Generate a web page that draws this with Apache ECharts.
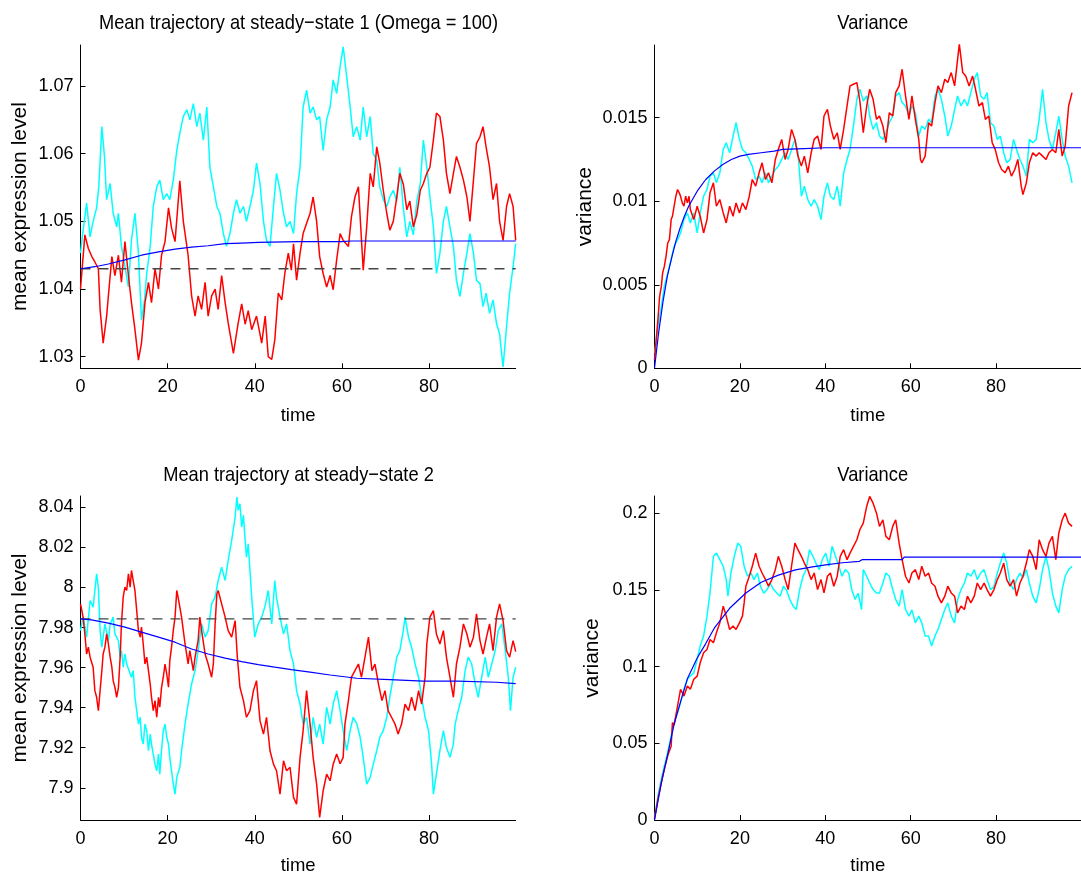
<!DOCTYPE html>
<html>
<head>
<meta charset="utf-8">
<script src="https://cdn.jsdelivr.net/npm/echarts/dist/echarts.min.js"></script>
<style>
html,body{margin:0;padding:0;background:#fff;}
#chart{width:1081px;height:877px;}
</style>
</head>
<body>
<div id="chart"></div>
<script>
// ---------- tick labels ----------
const timeTicks = [0, 20, 40, 60, 80];
const ticksTL = [1.03, 1.04, 1.05, 1.06, 1.07];
const ticksTR = [0, 0.005, 0.01, 0.015];
const ticksBL = [7.9, 7.92, 7.94, 7.96, 7.98, 8, 8.02, 8.04];
const ticksBR = [0, 0.05, 0.1, 0.15, 0.2];

// ---------- titles / names ----------
const titles = ['Mean trajectory at steady\u2212state 1 (Omega = 100)', 'Variance', 'Mean trajectory at steady\u2212state 2', 'Variance'];
const yNames = ['mean expression level', 'variance', 'mean expression level', 'variance'];

// ---------- top-left: mean, steady state 1 ----------
const tlRed = [[0,1.040],[1.0,1.048],[1.8,1.046],[2.6,1.0448],[3.3,1.044],[4.1,1.043],[4.5,1.037],[5.2,1.032],[6.0,1.036],[6.4,1.039],[7.2,1.0448],[7.9,1.042],[8.7,1.045],[9.4,1.041],[10.2,1.047],[11.0,1.042],[11.7,1.038],[12.5,1.034],[13.3,1.0295],[14.0,1.032],[14.8,1.038],[15.6,1.041],[16.3,1.038],[17.1,1.043],[17.9,1.040],[18.6,1.045],[19.4,1.047],[20.2,1.052],[20.9,1.049],[21.7,1.047],[22.8,1.056],[23.6,1.050],[24.7,1.045],[25.5,1.039],[26.3,1.036],[27.0,1.039],[27.8,1.037],[28.6,1.041],[29.3,1.036],[30.1,1.039],[30.9,1.040],[31.6,1.037],[32.4,1.042],[33.2,1.038],[33.9,1.035],[35.1,1.0305],[36.2,1.035],[37.0,1.0378],[37.8,1.0348],[38.5,1.0368],[39.3,1.034],[40.4,1.036],[41.6,1.032],[42.4,1.036],[43.1,1.030],[43.9,1.0296],[44.6,1.0325],[45.4,1.0394],[46.2,1.0384],[46.9,1.0423],[47.7,1.0453],[48.4,1.0428],[48.9,1.0467],[49.6,1.0413],[50.4,1.0453],[51.1,1.0482],[52.7,1.0512],[53.4,1.0536],[54.2,1.050],[54.9,1.0448],[55.7,1.0423],[56.5,1.0403],[57.3,1.042],[58.0,1.0399],[58.8,1.0443],[59.6,1.0482],[60.3,1.0472],[61.5,1.0463],[62.2,1.0507],[63.0,1.0536],[63.8,1.0551],[64.5,1.0472],[64.9,1.0428],[65.7,1.0492],[66.5,1.0571],[67.2,1.0551],[68.0,1.061],[68.7,1.0586],[69.5,1.0546],[70.3,1.0512],[71.0,1.0487],[71.8,1.050],[72.6,1.0536],[73.3,1.0571],[74.1,1.0555],[74.9,1.0517],[75.6,1.053],[76.4,1.0492],[77.2,1.051],[78.0,1.0546],[78.7,1.0556],[79.5,1.0571],[80.2,1.058],[81.0,1.062],[81.7,1.066],[82.5,1.0655],[83.3,1.062],[84.0,1.0571],[84.8,1.0541],[85.6,1.0571],[86.3,1.0596],[87.1,1.058],[87.9,1.0561],[88.7,1.0536],[89.4,1.050],[90.2,1.0561],[90.9,1.0615],[91.7,1.0625],[92.4,1.064],[93.1,1.061],[93.9,1.058],[94.7,1.0532],[95.5,1.0556],[96.2,1.050],[97.0,1.0472],[97.8,1.0522],[98.5,1.0541],[99.3,1.0522],[99.9,1.0472]];
const tlCyan = [[0,1.0453],[0.7,1.0492],[1.4,1.0527],[2.2,1.0477],[2.9,1.050],[3.7,1.052],[4.2,1.0551],[4.9,1.064],[5.5,1.0596],[6.0,1.0532],[6.8,1.0556],[7.5,1.0512],[8.3,1.0492],[8.7,1.0512],[9.4,1.0463],[10.2,1.0433],[11.0,1.0403],[11.7,1.0472],[12.5,1.0512],[13.3,1.0453],[14.0,1.0354],[14.7,1.0384],[15.2,1.0423],[16.0,1.0463],[16.7,1.0522],[17.5,1.0551],[18.2,1.0561],[19.0,1.0532],[19.8,1.0541],[20.5,1.0532],[21.3,1.0561],[22.1,1.0605],[22.8,1.063],[23.6,1.0655],[24.4,1.0665],[25.1,1.065],[25.9,1.0674],[26.7,1.064],[27.4,1.066],[28.2,1.062],[29.0,1.0669],[29.7,1.058],[30.5,1.0551],[31.3,1.0522],[32.0,1.0512],[32.8,1.0482],[33.5,1.0463],[34.3,1.0482],[35.1,1.0512],[35.8,1.0532],[36.6,1.0512],[37.4,1.0522],[38.1,1.050],[38.9,1.0522],[39.7,1.0546],[40.4,1.0586],[41.2,1.0556],[42.0,1.050],[42.7,1.0472],[43.5,1.0463],[44.3,1.0522],[45.0,1.0571],[45.8,1.0546],[46.6,1.0512],[47.3,1.0492],[48.1,1.050],[48.9,1.0482],[49.6,1.0541],[50.4,1.058],[51.1,1.0669],[51.9,1.0694],[52.7,1.066],[53.4,1.0669],[54.2,1.065],[54.9,1.0655],[55.7,1.0605],[56.5,1.065],[57.3,1.0669],[58.0,1.0709],[58.8,1.0689],[59.6,1.0729],[60.3,1.0758],[61.1,1.0714],[61.9,1.0669],[62.6,1.0625],[63.4,1.064],[64.2,1.062],[64.9,1.0669],[65.7,1.0625],[66.5,1.0655],[67.2,1.060],[68.0,1.059],[68.7,1.0551],[69.5,1.0532],[70.3,1.0522],[71.0,1.0536],[71.8,1.0546],[72.6,1.053],[73.3,1.058],[74.1,1.052],[74.9,1.0477],[75.6,1.050],[76.4,1.048],[77.2,1.053],[78.0,1.0556],[78.7,1.062],[79.5,1.058],[80.2,1.0536],[81.0,1.0492],[81.7,1.0423],[82.5,1.0453],[83.3,1.050],[84.0,1.0522],[84.8,1.0492],[85.6,1.0463],[86.3,1.0413],[87.1,1.0389],[87.9,1.0423],[88.7,1.0453],[89.4,1.0482],[90.2,1.0453],[90.9,1.0413],[91.7,1.0408],[92.4,1.0374],[93.1,1.0394],[93.9,1.0364],[94.7,1.0384],[95.5,1.0349],[96.2,1.0334],[97.0,1.0285],[97.8,1.0344],[98.5,1.0394],[99.3,1.0433],[99.9,1.0467]];
const tlBlue = [[0,1.043],[3.3,1.0433],[6.4,1.0437],[10.2,1.0443],[14,1.045],[17.9,1.0455],[21.7,1.0459],[25.5,1.0462],[29.3,1.0464],[33.2,1.0467],[37,1.0468],[40.8,1.0469],[50,1.047],[60,1.047],[62,1.0471],[99.9,1.0471]];
const tlDash = [[0,1.043],[99.9,1.043]];

// ---------- top-right: variance 1 ----------
const trRed = [[0,0.0005],[0.4,0.0017],[0.8,0.0029],[1.2,0.0043],[1.6,0.0049],[1.9,0.0057],[2.3,0.0061],[2.7,0.0067],[3.1,0.0075],[3.5,0.0077],[3.9,0.0089],[4.2,0.0091],[4.6,0.0097],[5.0,0.0103],[5.4,0.0107],[5.8,0.0105],[6.1,0.0103],[6.5,0.0099],[6.9,0.0097],[7.3,0.0103],[7.7,0.0099],[8.1,0.0103],[8.4,0.0095],[9.2,0.0089],[10.0,0.0097],[10.7,0.0091],[11.5,0.0081],[12.3,0.0089],[13.0,0.0105],[13.8,0.0111],[14.5,0.0097],[15.3,0.0101],[16.1,0.0093],[16.8,0.0087],[17.6,0.0097],[18.4,0.0091],[19.1,0.0099],[19.9,0.0093],[20.6,0.0099],[21.4,0.0095],[22.2,0.0103],[22.9,0.0113],[23.7,0.0109],[24.5,0.0117],[25.2,0.0123],[26.0,0.0113],[26.7,0.0117],[27.5,0.0111],[28.3,0.0125],[29.0,0.0131],[29.8,0.0137],[30.6,0.0125],[31.3,0.0131],[32.1,0.0143],[32.9,0.0137],[33.6,0.0127],[34.4,0.0121],[35.1,0.0127],[35.9,0.0117],[36.7,0.0129],[37.4,0.0137],[38.2,0.0139],[39.0,0.0131],[39.7,0.0151],[40.5,0.0155],[41.2,0.0145],[42.0,0.0137],[42.8,0.0141],[43.5,0.0131],[44.3,0.0143],[45.1,0.0157],[45.8,0.0169],[46.6,0.0170],[47.4,0.0171],[48.1,0.0160],[48.9,0.0141],[49.7,0.0157],[50.4,0.0167],[51.2,0.0161],[52.0,0.0149],[52.7,0.0151],[53.5,0.0145],[54.2,0.0135],[55.0,0.0153],[55.8,0.0151],[56.5,0.0165],[57.3,0.0169],[58.0,0.0179],[58.8,0.0163],[59.6,0.0149],[60.3,0.0163],[61.1,0.0149],[61.9,0.0137],[62.3,0.0125],[62.6,0.0123],[63.4,0.0127],[64.2,0.0147],[64.9,0.0145],[65.7,0.0159],[66.4,0.0169],[67.2,0.0165],[68.0,0.0173],[68.7,0.0171],[69.5,0.0177],[70.3,0.0169],[71.0,0.0185],[71.4,0.0194],[72.2,0.0177],[72.9,0.0175],[73.7,0.0169],[74.5,0.0175],[75.2,0.0167],[76.0,0.0157],[76.8,0.0159],[77.5,0.0149],[78.3,0.0151],[79.1,0.0135],[79.8,0.0131],[80.6,0.0123],[81.3,0.0119],[82.1,0.0117],[82.9,0.0121],[83.6,0.0115],[84.4,0.0119],[85.1,0.0125],[85.9,0.0109],[86.3,0.0104],[87.1,0.0111],[87.8,0.0123],[88.6,0.0129],[89.4,0.0127],[90.1,0.0129],[90.9,0.0127],[91.7,0.0125],[92.4,0.0129],[93.2,0.0131],[94.0,0.0129],[94.7,0.0143],[95.5,0.0127],[96.2,0.0133],[97.0,0.0157],[97.8,0.0165]];
const trCyan = [[0,0.0009],[0.8,0.0025],[1.6,0.0037],[2.3,0.0049],[3.1,0.0057],[3.9,0.0065],[4.6,0.0073],[5.4,0.0077],[6.1,0.0081],[6.9,0.0089],[7.7,0.0093],[8.4,0.0087],[9.2,0.0093],[10.0,0.0081],[10.7,0.0093],[11.5,0.0103],[12.3,0.0107],[13.0,0.0115],[13.8,0.0117],[14.5,0.0111],[15.3,0.0117],[16.1,0.0131],[16.8,0.0135],[17.6,0.0129],[18.4,0.0139],[19.1,0.0147],[19.9,0.0137],[20.6,0.0131],[21.4,0.0129],[22.2,0.0125],[22.9,0.0121],[23.7,0.0113],[24.5,0.0115],[25.2,0.0111],[26.0,0.0117],[26.7,0.0111],[27.5,0.0115],[28.3,0.0119],[29.0,0.0121],[29.8,0.0125],[30.6,0.0129],[31.3,0.0125],[32.1,0.0131],[32.9,0.0137],[33.6,0.0129],[34.4,0.0103],[35.1,0.0109],[35.9,0.0101],[36.7,0.0097],[37.4,0.0101],[38.2,0.0097],[39.0,0.0089],[39.7,0.0103],[40.5,0.0111],[41.2,0.0103],[42.0,0.0101],[42.8,0.0109],[43.5,0.0097],[44.3,0.0117],[45.1,0.0125],[45.8,0.0131],[46.6,0.0145],[47.4,0.0161],[48.1,0.0167],[48.9,0.0160],[49.7,0.0163],[50.4,0.0151],[51.2,0.0143],[52.0,0.0147],[52.7,0.0139],[53.5,0.0137],[54.2,0.0141],[55.0,0.0147],[55.8,0.0151],[56.5,0.0163],[57.3,0.0165],[58.0,0.0159],[58.8,0.0157],[59.6,0.0151],[60.3,0.0157],[61.1,0.0153],[61.9,0.0139],[62.6,0.0145],[63.4,0.0143],[64.2,0.0149],[64.9,0.0147],[65.7,0.0163],[66.4,0.0167],[67.2,0.0161],[68.0,0.0151],[68.7,0.0139],[69.5,0.0145],[70.3,0.0155],[71.0,0.0163],[71.8,0.0157],[72.6,0.0161],[73.3,0.0157],[74.1,0.0165],[74.9,0.0173],[75.6,0.0177],[76.4,0.0163],[77.2,0.0161],[77.9,0.0165],[78.7,0.0147],[79.5,0.0145],[80.3,0.0137],[81.0,0.0139],[81.8,0.0129],[82.5,0.0123],[83.3,0.0125],[84.1,0.0137],[84.8,0.0131],[85.6,0.0125],[86.3,0.0121],[87.1,0.0115],[87.8,0.0137],[88.6,0.0135],[89.4,0.0137],[90.1,0.0149],[90.9,0.0167],[91.7,0.0147],[92.4,0.0137],[93.2,0.0131],[94.0,0.0141],[94.7,0.0151],[95.5,0.0137],[96.2,0.0127],[97.0,0.0121],[97.8,0.0111]];
const trBlue = [[0,0],[1,0.0022],[2,0.004],[3,0.0055],[4,0.0066],[5,0.0076],[6,0.0084],[7,0.0091],[8,0.0097],[10,0.0106],[12,0.0113],[14,0.0118],[16,0.0122],[18,0.0125],[20,0.0127],[22,0.0128],[25,0.0129],[28,0.0130],[30,0.0131],[35,0.01315],[40,0.0132],[99.9,0.0132]];

// ---------- bottom-left: mean, steady state 2 ----------
const blRed = [[0,7.9918],[0.6,7.9852],[1.0,7.9768],[1.4,7.9668],[1.8,7.9702],[2.2,7.9652],[2.9,7.9602],[3.3,7.9485],[3.7,7.9452],[4.1,7.9385],[4.5,7.9485],[4.9,7.9585],[5.2,7.9668],[5.6,7.9702],[6.0,7.9768],[6.4,7.9718],[6.8,7.9652],[7.2,7.9602],[7.5,7.9535],[7.9,7.9502],[8.3,7.9452],[8.7,7.950],[9.1,7.9652],[9.4,7.9818],[9.8,7.9952],[10.2,8.0002],[10.6,7.9985],[11.0,8.0068],[11.4,8.0002],[11.7,8.0085],[12.1,8.0035],[12.5,7.9985],[12.9,7.9885],[13.3,7.9785],[13.7,7.9752],[14.0,7.9802],[14.4,7.9718],[14.8,7.9618],[15.2,7.9652],[15.6,7.9585],[16.0,7.9518],[16.3,7.9452],[16.7,7.9385],[17.1,7.9435],[17.5,7.9352],[17.9,7.9452],[18.2,7.9402],[18.6,7.950],[19.0,7.9552],[19.4,7.9618],[19.8,7.9568],[20.2,7.9502],[20.5,7.9635],[20.9,7.9702],[21.3,7.9785],[21.7,7.9852],[22.1,7.9985],[22.4,7.9952],[22.8,7.9902],[23.2,7.9852],[23.6,7.9785],[24.0,7.9718],[24.7,7.9618],[25.1,7.9685],[25.5,7.9635],[25.9,7.9585],[26.3,7.9652],[27.0,7.9735],[27.4,7.9852],[27.8,7.9785],[28.6,7.9668],[29.3,7.9618],[30.1,7.9552],[30.5,7.962],[30.9,7.9818],[31.3,7.9968],[31.6,7.9985],[32.4,7.9918],[33.2,7.9852],[33.9,7.9785],[34.7,7.9752],[35.5,7.9835],[36.0,7.9652],[36.6,7.9502],[37.4,7.9435],[38.1,7.9352],[38.9,7.9385],[39.7,7.9485],[40.4,7.9535],[41.2,7.9335],[42.0,7.9268],[42.7,7.9352],[43.5,7.9185],[44.3,7.9118],[45.0,7.9085],[45.8,7.8968],[46.6,7.9135],[47.3,7.9085],[48.1,7.9102],[48.9,7.8952],[49.6,7.8918],[50.4,7.9152],[51.1,7.9285],[51.9,7.9485],[52.7,7.9318],[53.4,7.9152],[54.2,7.9018],[54.9,7.8852],[55.7,7.8985],[56.5,7.9068],[57.3,7.9035],[58.0,7.9118],[58.8,7.9168],[59.6,7.912],[60.3,7.9152],[60.7,7.9318],[61.5,7.9435],[62.2,7.9552],[63.0,7.9585],[63.8,7.9618],[64.5,7.9552],[65.3,7.9652],[66.1,7.9752],[66.9,7.9585],[67.6,7.9618],[68.4,7.9518],[69.2,7.9435],[69.9,7.9485],[70.6,7.9385],[71.4,7.9352],[72.2,7.9318],[72.9,7.9268],[73.7,7.9318],[74.5,7.9418],[75.3,7.9385],[76.0,7.9452],[76.8,7.9385],[77.6,7.9485],[78.3,7.9418],[79.1,7.9552],[79.5,7.9718],[80.2,7.9852],[81.0,7.9885],[81.7,7.9768],[82.5,7.9718],[83.3,7.9785],[84.0,7.9652],[84.8,7.9552],[85.6,7.9452],[86.3,7.9618],[87.1,7.9702],[87.9,7.9818],[88.7,7.9768],[89.4,7.9702],[90.2,7.9752],[90.9,7.9868],[91.7,7.9735],[92.4,7.9668],[93.2,7.9752],[93.9,7.9818],[94.7,7.9685],[95.5,7.9852],[96.2,7.9918],[97.0,7.9835],[97.8,7.9685],[98.5,7.9652],[99.3,7.9735],[99.9,7.968]];
const blCyan = [[0,7.9785],[0.6,7.9852],[1.4,7.9752],[2.2,7.9935],[2.9,7.9902],[3.3,7.9985],[3.7,8.0068],[4.1,8.0],[4.5,7.9785],[4.9,7.9702],[5.2,7.9752],[5.6,7.9818],[6.4,7.9735],[6.8,7.9818],[7.5,7.9852],[7.9,7.9768],[8.7,7.9735],[9.1,7.9652],[9.4,7.9685],[9.8,7.9602],[10.2,7.9668],[10.6,7.9618],[11.7,7.9552],[12.1,7.9585],[12.5,7.9452],[13.3,7.9318],[13.7,7.9352],[14.0,7.9252],[14.4,7.9218],[14.8,7.9318],[15.2,7.9285],[15.6,7.9185],[16.0,7.9268],[16.3,7.9218],[17.1,7.9118],[17.5,7.9085],[17.9,7.9168],[18.2,7.9068],[18.6,7.9185],[19.0,7.9285],[19.4,7.9318],[19.8,7.9252],[20.2,7.9218],[20.5,7.9152],[20.9,7.9085],[21.3,7.9018],[21.7,7.8968],[22.1,7.9052],[22.8,7.9102],[23.2,7.9185],[23.6,7.9252],[24.0,7.9318],[24.7,7.9418],[25.5,7.9518],[26.3,7.9585],[27.0,7.9685],[27.4,7.9752],[27.8,7.9818],[28.6,7.9752],[29.3,7.9785],[30.1,7.9918],[30.9,7.9952],[31.6,8.0035],[32.4,8.0102],[33.2,8.0035],[33.9,8.0135],[34.7,8.0235],[35.5,8.0352],[35.9,8.0452],[36.2,8.0385],[36.6,8.0418],[37.0,8.0302],[37.4,8.036],[37.8,8.0235],[38.1,8.0152],[38.5,8.0218],[38.9,8.0085],[39.3,7.9952],[40.0,7.9752],[40.8,7.9818],[41.6,7.9852],[42.3,7.9902],[43.1,7.9985],[43.9,7.9818],[44.6,8.0035],[45.0,7.995],[45.8,7.9852],[46.6,7.9768],[47.3,7.9818],[48.1,7.9685],[48.9,7.9618],[49.6,7.9485],[50.4,7.9418],[51.1,7.9318],[51.9,7.9352],[52.7,7.9218],[53.4,7.9352],[54.2,7.9252],[54.9,7.9318],[55.7,7.9218],[56.5,7.9402],[57.3,7.9318],[58.0,7.9418],[58.8,7.9485],[59.6,7.9385],[60.3,7.9285],[61.1,7.9185],[61.9,7.9285],[62.6,7.9352],[63.4,7.932],[64.2,7.9252],[64.9,7.9152],[65.7,7.9018],[66.5,7.9052],[67.2,7.9118],[68.0,7.9185],[68.7,7.9252],[69.5,7.9285],[70.3,7.9352],[71.0,7.9452],[71.8,7.9552],[72.6,7.9652],[73.3,7.9685],[74.1,7.9785],[74.5,7.9852],[75.3,7.9752],[76.0,7.9702],[76.8,7.9618],[77.6,7.9552],[78.3,7.9452],[79.1,7.9352],[79.9,7.9285],[80.6,7.9118],[81.0,7.8968],[81.7,7.9068],[82.5,7.9185],[83.3,7.9285],[84.0,7.9202],[84.8,7.9152],[85.6,7.9218],[86.0,7.9318],[86.7,7.9385],[87.5,7.9452],[88.3,7.9585],[89.0,7.9652],[89.8,7.9618],[90.6,7.9518],[91.3,7.9452],[92.1,7.9552],[92.9,7.9652],[93.6,7.9552],[94.4,7.9618],[95.2,7.9685],[95.9,7.9785],[96.7,7.9818],[97.5,7.9685],[98.2,7.9552],[98.7,7.9385],[99.3,7.9552],[99.9,7.9602]];
const blBlue = [[0,7.9843],[2.5,7.9838],[6.4,7.9822],[10.2,7.9802],[14,7.9777],[17.9,7.9752],[21.7,7.9727],[25.5,7.9693],[29.3,7.9668],[33.2,7.9647],[37,7.963],[40.8,7.9615],[44.6,7.9602],[48.4,7.959],[52.7,7.9577],[57.3,7.9563],[63.4,7.9547],[71,7.954],[78.7,7.9533],[86.4,7.9533],[95.5,7.9527],[99.9,7.952]];
const blDash = [[0,7.9843],[99.9,7.9843]];

// ---------- bottom-right: variance 2 ----------
const brRed = [[0,0.0007],[0.8,0.0137],[1.6,0.0245],[2.3,0.0332],[3.1,0.0418],[3.9,0.0483],[4.2,0.0635],[4.6,0.062],[5.4,0.0743],[6.1,0.0852],[6.9,0.0808],[7.7,0.0873],[8.4,0.0852],[9.2,0.0917],[10.0,0.0938],[10.7,0.1025],[11.5,0.109],[12.3,0.1112],[13.0,0.1177],[13.8,0.1155],[14.5,0.122],[15.3,0.1285],[16.1,0.1394],[16.8,0.1329],[17.6,0.1242],[18.4,0.1264],[19.1,0.1242],[19.9,0.1285],[20.6,0.1329],[21.0,0.1415],[21.4,0.1524],[22.2,0.1589],[22.9,0.1654],[23.7,0.174],[24.5,0.1654],[25.2,0.161],[26.0,0.1567],[26.7,0.1524],[27.5,0.1567],[28.3,0.1632],[29.0,0.1719],[29.8,0.1654],[30.6,0.1567],[31.3,0.1502],[32.1,0.1654],[32.9,0.1805],[33.6,0.1762],[34.4,0.1719],[35.1,0.1675],[35.9,0.1632],[36.7,0.1567],[37.4,0.161],[38.2,0.1502],[39.0,0.1567],[39.7,0.148],[40.5,0.1589],[41.2,0.161],[42.0,0.1524],[42.8,0.1589],[43.5,0.1719],[44.3,0.1762],[45.1,0.1697],[45.8,0.174],[46.6,0.1784],[47.4,0.1827],[48.1,0.1892],[48.9,0.1935],[49.7,0.2044],[50.4,0.2109],[51.2,0.2065],[52.0,0.2],[52.7,0.1914],[53.5,0.1957],[54.2,0.1849],[55.0,0.1827],[55.8,0.1914],[56.5,0.1957],[57.3,0.1805],[58.0,0.1697],[58.8,0.1589],[59.6,0.1545],[60.3,0.161],[61.1,0.1632],[61.9,0.1567],[62.6,0.1654],[63.4,0.1589],[64.2,0.161],[64.9,0.1545],[65.7,0.1524],[66.4,0.1459],[67.2,0.1415],[68.0,0.1459],[68.7,0.1524],[69.5,0.148],[70.3,0.1459],[71.0,0.135],[71.8,0.1394],[72.6,0.1372],[73.3,0.1459],[74.1,0.1415],[74.9,0.1459],[75.6,0.1545],[76.4,0.1502],[77.2,0.1545],[77.9,0.1502],[78.7,0.1459],[79.5,0.1502],[80.3,0.1567],[81.0,0.161],[81.8,0.1675],[82.5,0.1567],[83.3,0.1524],[84.1,0.1567],[84.8,0.1459],[85.6,0.1545],[86.3,0.1589],[87.1,0.1675],[87.8,0.1762],[88.6,0.1719],[89.4,0.1632],[90.1,0.1827],[90.9,0.1762],[91.7,0.1719],[92.4,0.1805],[93.2,0.1849],[94.0,0.1697],[94.7,0.187],[95.5,0.1957],[96.2,0.2],[97.0,0.1935],[97.8,0.1914]];
const brCyan = [[0,0.0007],[0.8,0.0158],[1.6,0.0267],[2.3,0.0353],[3.1,0.044],[3.9,0.0548],[4.6,0.0635],[5.4,0.07],[6.1,0.0765],[6.9,0.0852],[7.7,0.0917],[8.4,0.0938],[9.2,0.096],[10.0,0.1047],[10.7,0.1134],[11.5,0.1199],[12.3,0.1329],[12.7,0.1415],[13.0,0.148],[13.8,0.1719],[14.5,0.174],[15.3,0.1697],[16.1,0.1654],[16.8,0.1567],[17.2,0.1459],[17.9,0.161],[18.7,0.1719],[19.5,0.1805],[20.2,0.1784],[21.0,0.1654],[21.8,0.1589],[22.6,0.161],[23.3,0.1567],[24.1,0.161],[24.8,0.1524],[25.6,0.1478],[26.4,0.1502],[27.1,0.1545],[27.9,0.1502],[28.7,0.1478],[29.4,0.1459],[30.2,0.1524],[30.9,0.150],[31.7,0.1437],[32.5,0.1394],[33.2,0.1372],[34.0,0.1502],[34.8,0.1589],[35.5,0.1632],[36.3,0.1762],[37.1,0.1719],[37.8,0.1675],[38.6,0.1632],[39.3,0.1697],[40.1,0.174],[40.9,0.1654],[41.6,0.1784],[42.4,0.1719],[43.2,0.1654],[43.9,0.1589],[44.7,0.1632],[45.5,0.161],[46.2,0.1502],[47.0,0.1437],[47.7,0.1478],[48.5,0.1372],[48.9,0.1632],[49.7,0.1589],[50.4,0.1545],[51.2,0.1502],[52.0,0.148],[52.7,0.148],[53.5,0.1545],[54.2,0.161],[55.0,0.1589],[55.8,0.1502],[56.5,0.1437],[57.3,0.1394],[58.0,0.1502],[58.8,0.1372],[59.6,0.1329],[60.3,0.137],[61.1,0.1285],[61.9,0.1329],[62.6,0.1285],[63.4,0.1199],[64.2,0.120],[64.9,0.1134],[65.7,0.1199],[66.4,0.1242],[67.2,0.1307],[68.0,0.1372],[68.7,0.1415],[69.5,0.1329],[70.3,0.1285],[71.0,0.1437],[71.8,0.1502],[72.6,0.1545],[73.3,0.161],[74.1,0.1589],[74.9,0.1632],[75.6,0.1567],[76.4,0.161],[77.2,0.1632],[77.9,0.1567],[78.7,0.1502],[79.5,0.152],[80.3,0.161],[81.0,0.1675],[81.8,0.174],[82.5,0.1675],[83.3,0.1545],[84.1,0.1502],[84.8,0.1567],[85.6,0.161],[86.3,0.158],[87.1,0.1632],[87.8,0.1545],[88.6,0.1459],[89.4,0.1415],[90.1,0.1502],[90.9,0.1632],[91.7,0.1719],[92.4,0.1632],[93.2,0.148],[94.0,0.1394],[94.7,0.135],[95.5,0.1502],[96.2,0.1589],[97.0,0.1632],[97.8,0.1654]];
const brBlue = [[0,0],[1.6,0.024],[3.1,0.043],[4.6,0.0625],[6.2,0.078],[7.7,0.092],[10,0.1056],[12,0.115],[14,0.125],[17.6,0.138],[21.4,0.148],[25,0.155],[29,0.1596],[33,0.163],[37,0.165],[40.5,0.1665],[44,0.1677],[48,0.1686],[48.6,0.1697],[58,0.1697],[58.5,0.1714],[99.9,0.1714]];

// ---------- build chart ----------
const FONT = "'Liberation Sans', Arial, Helvetica, sans-serif";
const FS_TICK = 18;
const FS_NAME = 18.5;
const FS_Y = 21;
const FS_TITLE = 21;

const grids = [
  {left: 80.5, top: 45, width: 435.2, height: 323.3},
  {left: 654.5, top: 45, width: 436.2, height: 323.3},
  {left: 80.5, top: 496, width: 435.2, height: 324},
  {left: 654.5, top: 496, width: 436.2, height: 324}
];
const yRanges = [[1.02829, 1.07606], [0, 0.01935], [7.8839, 8.0457], [0, 0.2112]];
const yTicks = [ticksTL, ticksTR, ticksBL, ticksBR];
const yGaps = [50, 59, 50, 52];
const xGaps = [38, 38, 36, 36];

const axisLineStyle = {color: '#000', width: 1};

const xAxes = grids.map((g, i) => ({
  gridIndex: i, type: 'value', min: 0, max: 99.9,
  axisLine: {show: true, onZero: false, lineStyle: axisLineStyle},
  axisTick: {show: true, inside: true, length: 5, customValues: timeTicks, lineStyle: axisLineStyle},
  axisLabel: {customValues: timeTicks, color: '#000', fontSize: FS_TICK, fontFamily: FONT, margin: 10},
  splitLine: {show: false},
  name: 'time', nameLocation: 'middle', nameGap: xGaps[i],
  nameTextStyle: {color: '#000', fontSize: FS_NAME, fontFamily: FONT}
}));

const yAxes = grids.map((g, i) => ({
  gridIndex: i, type: 'value', min: yRanges[i][0], max: yRanges[i][1],
  axisLine: {show: true, onZero: false, lineStyle: axisLineStyle},
  axisTick: {show: true, inside: true, length: 5, customValues: yTicks[i], lineStyle: axisLineStyle},
  axisLabel: {customValues: yTicks[i], color: '#000', fontSize: FS_TICK, fontFamily: FONT, margin: 7},
  splitLine: {show: false},
  name: yNames[i], nameLocation: 'middle', nameGap: yGaps[i],
  nameTextStyle: {color: '#000', fontSize: FS_Y, fontFamily: FONT}
}));

function noisy(data, color, idx) {
  return {type: 'line', xAxisIndex: idx, yAxisIndex: idx, data: data, showSymbol: false,
    lineStyle: {color: color, width: 1.5}, animation: false, z: 2};
}
function smooth(data, idx) {
  return {type: 'line', xAxisIndex: idx, yAxisIndex: idx, data: data, showSymbol: false,
    lineStyle: {color: '#0000ff', width: 1.2}, animation: false, z: 4};
}
function dashed(data, idx) {
  return {type: 'line', xAxisIndex: idx, yAxisIndex: idx, data: data, showSymbol: false,
    lineStyle: {color: '#444', width: 1.3, type: [10, 8]}, animation: false, z: 3};
}

const series = [
  noisy(tlCyan, '#00ffff', 0), noisy(tlRed, '#ff0000', 0), dashed(tlDash, 0), smooth(tlBlue, 0),
  noisy(trCyan, '#00ffff', 1), noisy(trRed, '#ff0000', 1), smooth(trBlue, 1),
  noisy(blCyan, '#00ffff', 2), noisy(blRed, '#ff0000', 2), dashed(blDash, 2), smooth(blBlue, 2),
  noisy(brCyan, '#00ffff', 3), noisy(brRed, '#ff0000', 3), smooth(brBlue, 3)
];

const titlePos = [[298.5, 23], [872.7, 23], [298.5, 475], [872.7, 475]];
const graphic = titles.map((t, i) => ({
  type: 'text', x: titlePos[i][0], y: titlePos[i][1], scaleX: 0.87, scaleY: 1, silent: true,
  style: {text: t, fill: '#000', fontSize: FS_TITLE, fontFamily: FONT,
    align: 'center', verticalAlign: 'middle', textAlign: 'center', textVerticalAlign: 'middle'}
}));

const chart = echarts.init(document.getElementById('chart'), null, {renderer: 'canvas'});
chart.setOption({
  backgroundColor: '#ffffff',
  animation: false,
  grid: grids,
  xAxis: xAxes,
  yAxis: yAxes,
  series: series,
  graphic: graphic
});
</script>
</body>
</html>
